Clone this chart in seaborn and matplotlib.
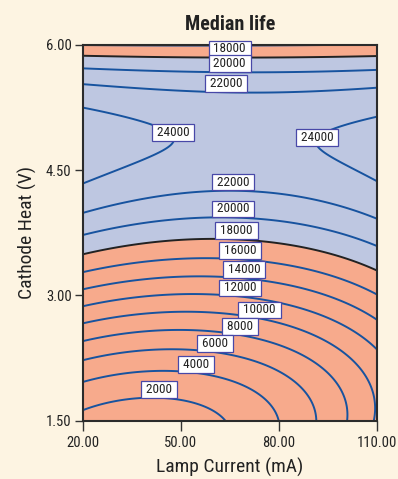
import numpy as np
import pandas as pd
import matplotlib
matplotlib.use("Agg")
import matplotlib.pyplot as plt
import seaborn as sns
from matplotlib import font_manager

# ---------------- data ----------------
# contour crossings on the left edge (Lamp Current = 20 mA)
left_heat = [1.617, 1.961, 2.221, 2.453, 2.665, 2.876, 3.076, 3.276, 3.492, 3.723,
             3.983, 4.334, 5.249, 5.536, 5.721, 5.868]
left_life = [2000, 4000, 6000, 8000, 10000, 12000, 14000, 16000, 18000, 20000,
             22000, 24000, 24000, 22000, 20000, 18000]
# contour crossings on the right edge (Lamp Current = 110 mA)
right_heat = [2.345, 2.704, 3.004, 3.292, 3.591, 3.915, 4.362, 5.149, 5.488, 5.700, 5.868]
right_life = [12000, 14000, 16000, 18000, 20000, 22000, 24000, 24000, 22000, 20000, 18000]
# contour crossings on the bottom edge (Cathode Heat = 1.50 V)
bottom_current = [63.7, 79.9, 91.3, 100.7, 109.0]
bottom_life = [2000, 4000, 6000, 8000, 10000]
# crossings along Lamp Current = 51.6 mA
mid1_heat = [1.746, 2.085, 2.345, 2.576, 2.790, 3.016, 3.223, 3.444, 3.663, 3.923, 4.223]
mid1_life = [2000, 4000, 6000, 8000, 10000, 12000, 14000, 16000, 18000, 20000, 22000]
# crossings along Lamp Current = 83.4 mA
mid2_heat = [2.006, 2.345, 2.645, 2.884, 3.124, 3.364, 3.603, 3.875, 4.194]
mid2_life = [6000, 8000, 10000, 12000, 14000, 16000, 18000, 20000, 22000]
# other points on contours (top band and the two 24000 lobes)
extra_current = [66.0, 66.0, 76.0, 34.5, 47.2, 38.5, 95.6, 91.6, 102.7]
extra_heat = [5.856, 5.670, 5.420, 5.120, 4.850, 4.640, 4.990, 4.800, 4.520]
extra_life = [18000, 20000, 22000, 24000, 24000, 24000, 24000, 24000, 24000]

contour_levels = [2000, 4000, 6000, 8000, 10000, 12000, 14000, 16000, 18000,
                  20000, 22000, 24000]
threshold_level = 18000
x_ticks = [20.0, 50.0, 80.0, 110.0]
y_ticks = [1.5, 3.0, 4.5, 6.0]

# ---------------- observation table ----------------
obs = pd.concat([
    pd.DataFrame({"current": 20.0, "heat": left_heat, "life": left_life}),
    pd.DataFrame({"current": 110.0, "heat": right_heat, "life": right_life}),
    pd.DataFrame({"current": bottom_current, "heat": 1.5, "life": bottom_life}),
    pd.DataFrame({"current": 51.6, "heat": mid1_heat, "life": mid1_life}),
    pd.DataFrame({"current": 83.4, "heat": mid2_heat, "life": mid2_life}),
    pd.DataFrame({"current": extra_current, "heat": extra_heat, "life": extra_life}),
], ignore_index=True)


def design(a, b):
    return np.column_stack([np.ones_like(a), b, b**2, b**3, a, a * b, a * b**2,
                            a**2, a**2 * b, a**2 * b**2])


ca = (obs["current"].to_numpy() - 65.0) / 45.0
cb = (obs["heat"].to_numpy() - 3.75) / 2.25
coef, *_ = np.linalg.lstsq(design(ca, cb), obs["life"].to_numpy(float), rcond=None)

gi = np.linspace(20, 110, 361)
gv = np.linspace(1.5, 6.0, 361)
GI, GV = np.meshgrid(gi, gv)
Z = (design(((GI - 65) / 45).ravel(), ((GV - 3.75) / 2.25).ravel()) @ coef).reshape(GI.shape)

# ---------------- style ----------------
sns.set_theme(style="white")
names = {f.name for f in font_manager.fontManager.ttflist}
prefs = [n for n in ["Roboto Condensed", "PT Sans Narrow", "Liberation Sans"] if n in names]
plt.rcParams["font.family"] = prefs + ["DejaVu Sans"]

bg = "#fdf4e2"
salmon = "#f7aa8c"
lavender = "#bec7e1"
line_blue = "#17539f"
ink = "#222222"

fig = plt.figure(figsize=(3.98, 4.79), dpi=100, facecolor=bg)
ax = fig.add_axes([82.7 / 398, 1 - 420.5 / 479, (377.3 - 82.7) / 398, (420.5 - 45) / 479])
ax.set_facecolor(salmon)

ax.contourf(GI, GV, Z, levels=[Z.min() - 1, threshold_level, Z.max() + 1],
            colors=[salmon, lavender])
line_colors = [ink if lv == threshold_level else line_blue for lv in contour_levels]
cs = ax.contour(GI, GV, Z, levels=contour_levels, colors=line_colors, linewidths=1.4)

# label spots (approximate point on the line under each label box)
label_spots = [
    (18000, 64.9, 5.86), (20000, 64.9, 5.67), (22000, 63.8, 5.43),
    (24000, 47.6, 4.85), (24000, 91.6, 4.79),
    (22000, 66.0, 4.24), (20000, 66.0, 3.92), (18000, 67.0, 3.67),
    (16000, 68.0, 3.43), (14000, 69.3, 3.20), (12000, 68.0, 2.99),
    (10000, 74.0, 2.745), (8000, 68.0, 2.54), (6000, 60.4, 2.32),
    (4000, 54.6, 2.07), (2000, 43.4, 1.78),
]
for lev, gx, gy in label_spots:
    segs = cs.allsegs[contour_levels.index(lev)]
    pts = np.vstack([s for s in segs if len(s)])
    d = ((pts[:, 0] - gx) / 90.0) ** 2 + ((pts[:, 1] - gy) / 4.5) ** 2
    px, py = pts[np.argmin(d)]
    ax.annotate(f" {lev} ", xy=(gx, py), xytext=(0, 1.5), textcoords="offset points",
                ha="center", va="bottom", fontsize=9.5, color=ink, zorder=5,
                bbox=dict(boxstyle="square,pad=0.14", fc="white", ec="#4848a8", lw=0.9))

ax.set_xlim(20, 110)
ax.set_ylim(1.5, 6.0)
ax.set_xticks(x_ticks)
ax.set_xticklabels([f"{t:.2f}" for t in x_ticks])
ax.set_yticks(y_ticks)
ax.set_yticklabels([f"{t:.2f}" for t in y_ticks])
ax.tick_params(axis="both", direction="out", width=1.0, color="#333333",
               labelsize=10.5, labelcolor=ink, left=True, bottom=True)
ax.tick_params(axis="y", length=6, pad=2)
ax.tick_params(axis="x", length=7, pad=4)
for sp in ax.spines.values():
    sp.set_color("#2b2b2b")
    sp.set_linewidth(1.5)
    sp.set_visible(True)

ax.set_xlabel("Lamp Current (mA)", fontsize=14, color=ink, labelpad=6)
ax.set_ylabel("Cathode Heat (V)", fontsize=14, color=ink, labelpad=6)
ax.set_title("Median life", fontsize=14.5, fontweight="bold", color=ink, pad=11)

fig.savefig("out.png", dpi=100, facecolor=bg)
